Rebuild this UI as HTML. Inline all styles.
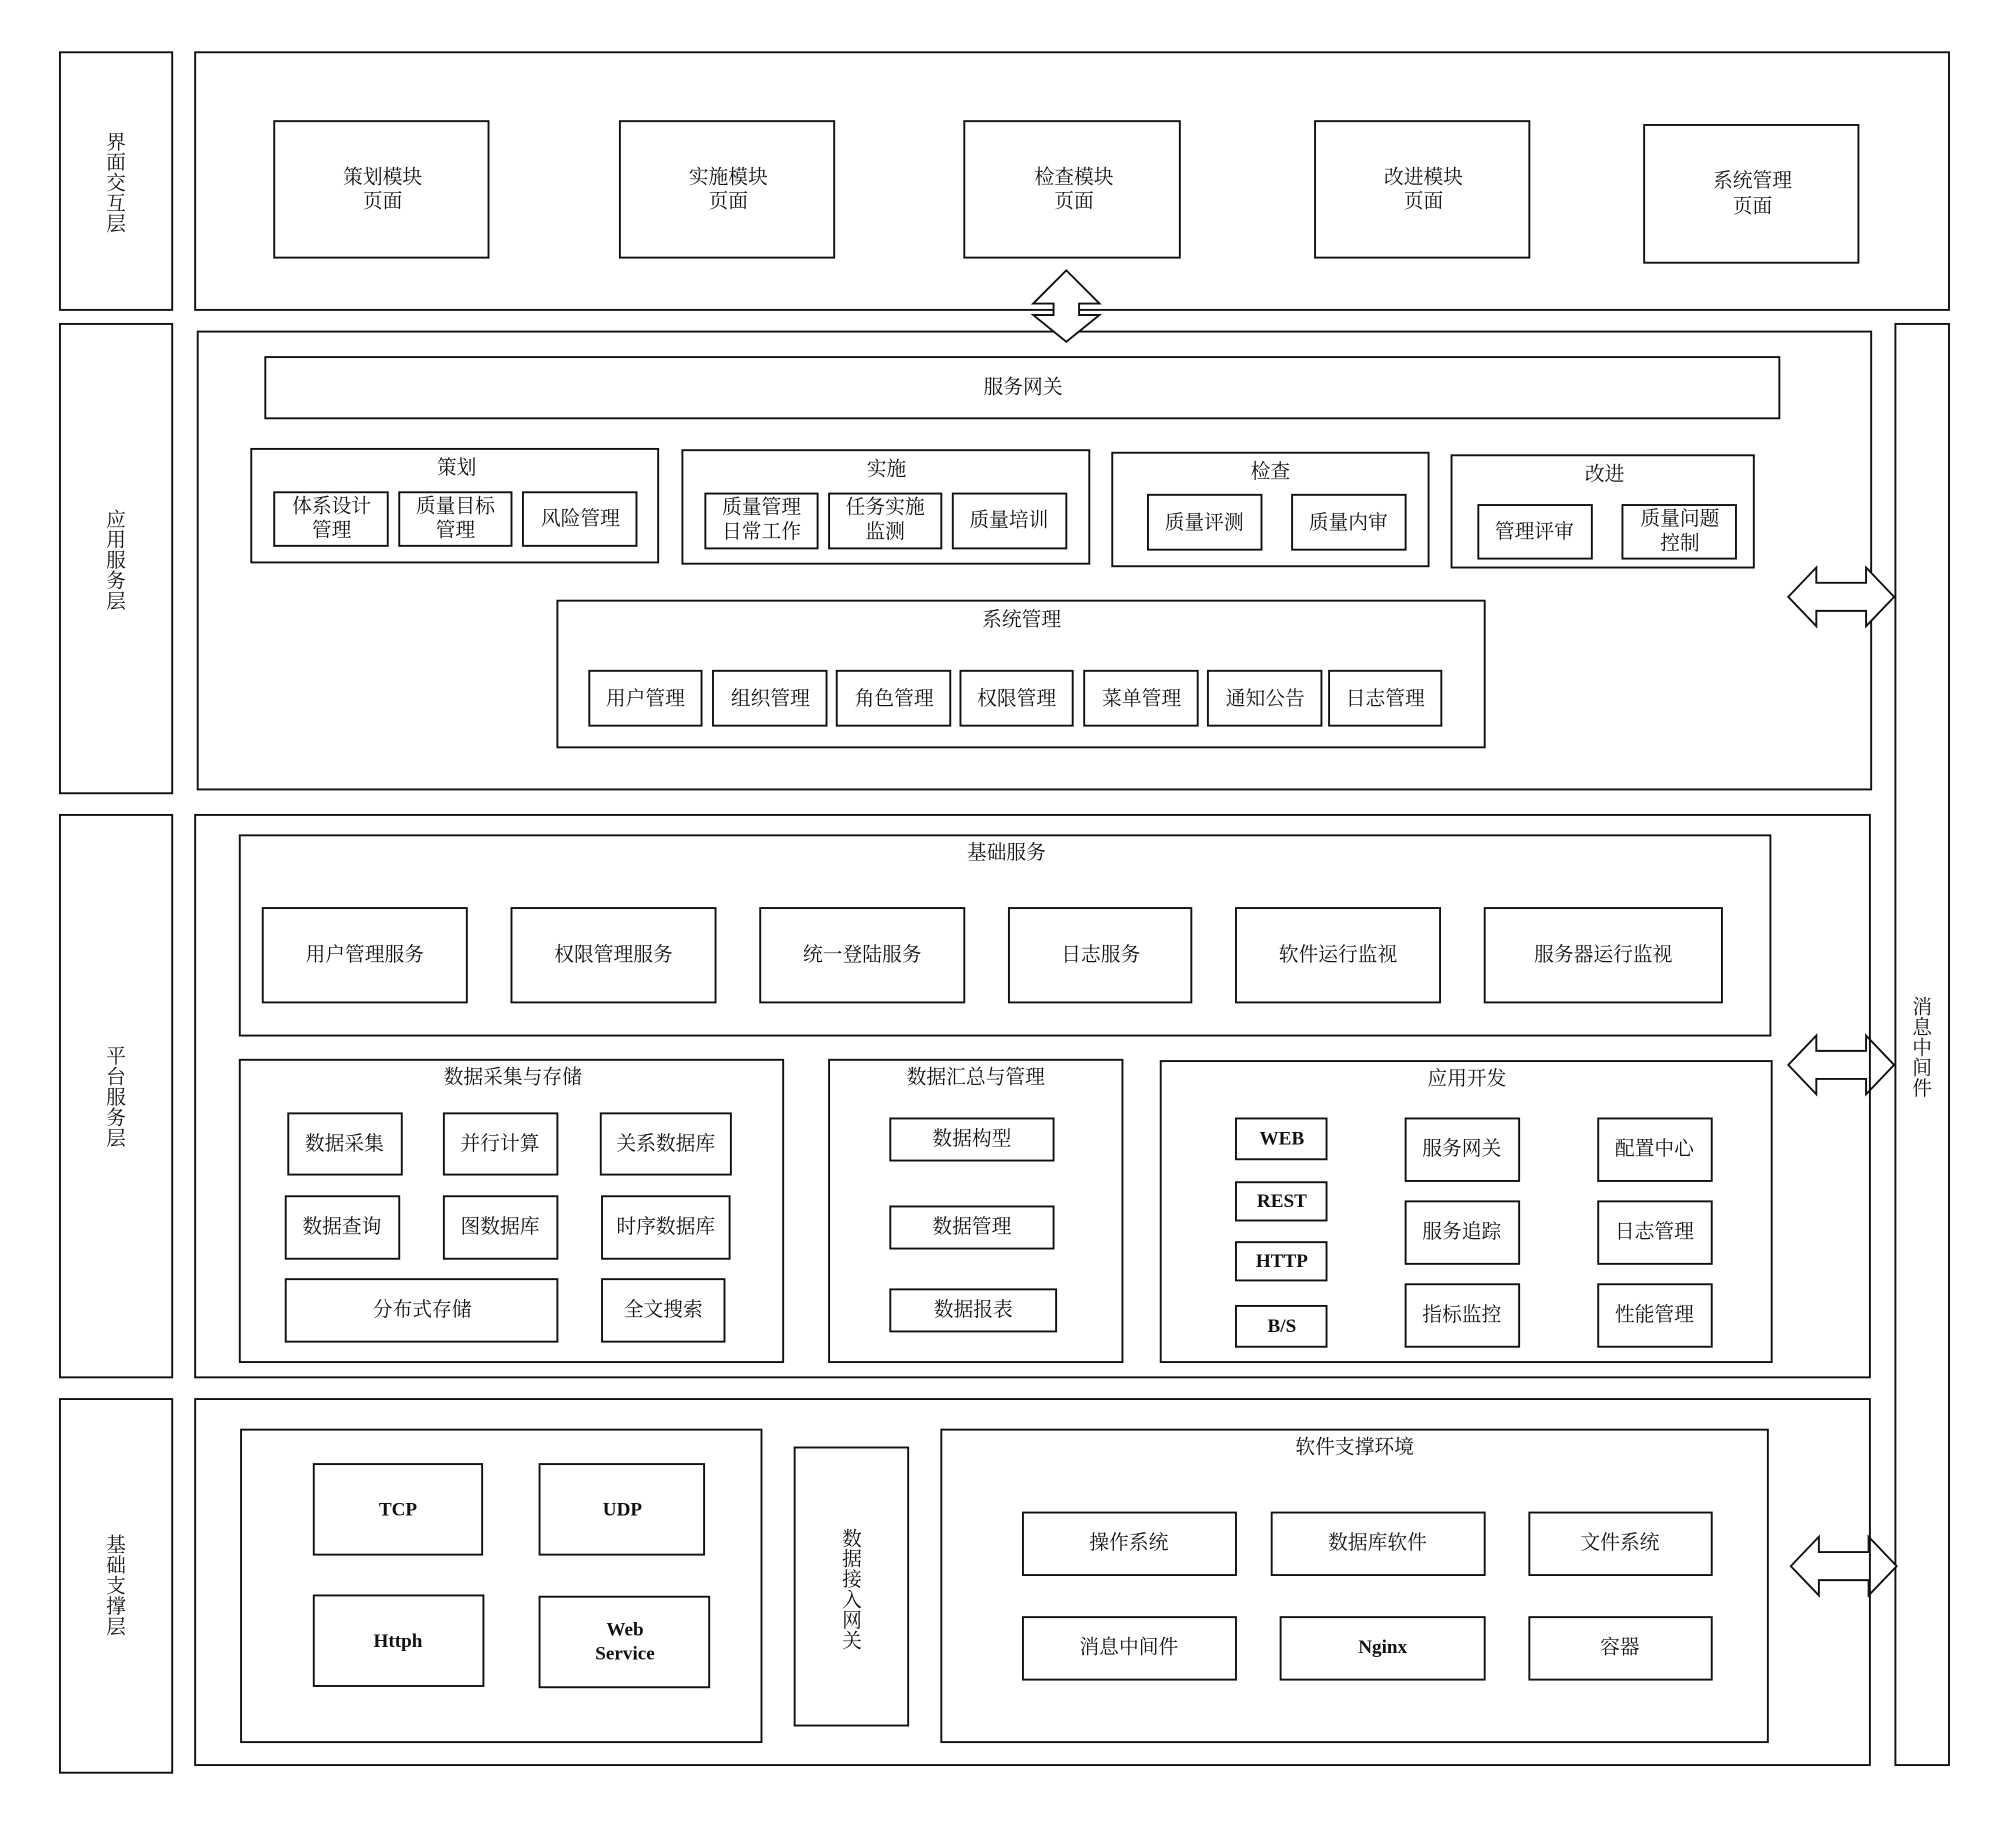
<!DOCTYPE html>
<html><head><meta charset="utf-8"><style>
html,body{margin:0;padding:0;background:#fff;}
svg{display:block;}
text{font-family:"Liberation Serif","Noto Serif CJK SC",serif;font-size:15.5px;fill:#111;text-anchor:middle;dominant-baseline:central;}
.l{font-weight:bold;font-size:15px;}
rect{fill:none;stroke:#111;stroke-width:1.5;}
polygon{fill:#fff;stroke:#111;stroke-width:1.5;}
</style></head><body>
<svg width="2000" height="1825" viewBox="0 0 1568 1431" preserveAspectRatio="none" xmlns="http://www.w3.org/2000/svg">
<!-- left labels -->
<rect x="47" y="41" width="88" height="202"/>
<rect x="47" y="254" width="88" height="368"/>
<rect x="47" y="639" width="88" height="441"/>
<rect x="47" y="1097" width="88" height="293"/>
<g>
<text x="91" y="112">界</text><text x="91" y="128">面</text><text x="91" y="144">交</text><text x="91" y="160">互</text><text x="91" y="176">层</text>
<text x="91" y="408">应</text><text x="91" y="424">用</text><text x="91" y="440">服</text><text x="91" y="456">务</text><text x="91" y="472">层</text>
<text x="91" y="829">平</text><text x="91" y="845">台</text><text x="91" y="861">服</text><text x="91" y="877">务</text><text x="91" y="893">层</text>
<text x="91" y="1212">基</text><text x="91" y="1228">础</text><text x="91" y="1244">支</text><text x="91" y="1260">撑</text><text x="91" y="1276">层</text>
</g>
<!-- top layer -->
<rect x="153" y="41" width="1375" height="202"/>
<rect x="215" y="95" width="168" height="107"/><text x="300" y="139">策划模块</text><text x="300" y="158">页面</text>
<rect x="486" y="95" width="168" height="107"/><text x="571" y="139">实施模块</text><text x="571" y="158">页面</text>
<rect x="756" y="95" width="169" height="107"/><text x="842" y="139">检查模块</text><text x="842" y="158">页面</text>
<rect x="1031" y="95" width="168" height="107"/><text x="1116" y="139">改进模块</text><text x="1116" y="158">页面</text>
<rect x="1289" y="98" width="168" height="108"/><text x="1374" y="142">系统管理</text><text x="1374" y="162">页面</text>
<!-- app layer -->
<rect x="155" y="260" width="1312" height="359"/>
<polygon points="836,212 862,238 846,238 846,247 862,247 836,268 810,247 826,247 826,238 810,238"/>
<rect x="208" y="280" width="1187" height="48"/><text x="802" y="304">服务网关</text>
<rect x="197" y="352" width="319" height="89"/><text x="358" y="367">策划</text>
<rect x="215" y="386" width="89" height="42"/><text x="260" y="397">体系设计</text><text x="260" y="416">管理</text>
<rect x="313" y="386" width="88" height="42"/><text x="357" y="397">质量目标</text><text x="357" y="416">管理</text>
<rect x="410" y="386" width="89" height="42"/><text x="455" y="407">风险管理</text>
<rect x="535" y="353" width="319" height="89"/><text x="695" y="368">实施</text>
<rect x="553" y="387" width="88" height="43"/><text x="597" y="398">质量管理</text><text x="597" y="417">日常工作</text>
<rect x="650" y="387" width="88" height="43"/><text x="694" y="398">任务实施</text><text x="694" y="417">监测</text>
<rect x="747" y="387" width="89" height="43"/><text x="791" y="408">质量培训</text>
<rect x="872" y="355" width="248" height="89"/><text x="996" y="370">检查</text>
<rect x="900" y="388" width="89" height="43"/><text x="944" y="410">质量评测</text>
<rect x="1013" y="388" width="89" height="43"/><text x="1057" y="410">质量内审</text>
<rect x="1138" y="357" width="237" height="88"/><text x="1258" y="372">改进</text>
<rect x="1159" y="396" width="89" height="42"/><text x="1203" y="417">管理评审</text>
<rect x="1272" y="396" width="89" height="42"/><text x="1317" y="407">质量问题</text><text x="1317" y="426">控制</text>
<rect x="437" y="471" width="727" height="115"/><text x="801" y="486">系统管理</text>
<rect x="462" y="526" width="88" height="43"/><text x="506" y="548">用户管理</text>
<rect x="559" y="526" width="89" height="43"/><text x="604" y="548">组织管理</text>
<rect x="656" y="526" width="89" height="43"/><text x="701" y="548">角色管理</text>
<rect x="753" y="526" width="88" height="43"/><text x="797" y="548">权限管理</text>
<rect x="850" y="526" width="89" height="43"/><text x="895" y="548">菜单管理</text>
<rect x="947" y="526" width="89" height="43"/><text x="992" y="548">通知公告</text>
<rect x="1042" y="526" width="88" height="43"/><text x="1086" y="548">日志管理</text>
<!-- message middleware -->
<rect x="1486" y="254" width="42" height="1130"/>
<text x="1507" y="790">消</text><text x="1507" y="806">息</text><text x="1507" y="822">中</text><text x="1507" y="838">间</text><text x="1507" y="854">件</text>
<polygon points="1402,468 1424,445 1424,457 1463,457 1463,445 1485,468 1463,491 1463,479 1424,479 1424,491"/>
<polygon points="1402,835 1424,812 1424,824 1463,824 1463,812 1485,835 1463,858 1463,846 1424,846 1424,858"/>
<polygon points="1404,1228 1426,1205 1426,1217 1465,1217 1465,1205 1487,1228 1465,1251 1465,1239 1426,1239 1426,1251"/>
<!-- platform -->
<rect x="153" y="639" width="1313" height="441"/>
<rect x="188" y="655" width="1200" height="157"/><text x="789" y="669">基础服务</text>
<rect x="206" y="712" width="160" height="74"/><text x="286" y="749">用户管理服务</text>
<rect x="401" y="712" width="160" height="74"/><text x="481" y="749">权限管理服务</text>
<rect x="596" y="712" width="160" height="74"/><text x="676" y="749">统一登陆服务</text>
<rect x="791" y="712" width="143" height="74"/><text x="863" y="749">日志服务</text>
<rect x="969" y="712" width="160" height="74"/><text x="1049" y="749">软件运行监视</text>
<rect x="1164" y="712" width="186" height="74"/><text x="1257" y="749">服务器运行监视</text>
<rect x="188" y="831" width="426" height="237"/><text x="402" y="845">数据采集与存储</text>
<rect x="226" y="873" width="89" height="48"/><text x="270" y="897">数据采集</text>
<rect x="348" y="873" width="89" height="48"/><text x="392" y="897">并行计算</text>
<rect x="471" y="873" width="102" height="48"/><text x="522" y="897">关系数据库</text>
<rect x="224" y="938" width="89" height="49"/><text x="268" y="962">数据查询</text>
<rect x="348" y="938" width="89" height="49"/><text x="392" y="962">图数据库</text>
<rect x="472" y="938" width="100" height="49"/><text x="522" y="962">时序数据库</text>
<rect x="224" y="1003" width="213" height="49"/><text x="331" y="1027">分布式存储</text>
<rect x="472" y="1003" width="96" height="49"/><text x="520" y="1027">全文搜索</text>
<rect x="650" y="831" width="230" height="237"/><text x="765" y="845">数据汇总与管理</text>
<rect x="698" y="877" width="128" height="33"/><text x="762" y="893">数据构型</text>
<rect x="698" y="946" width="128" height="33"/><text x="762" y="962">数据管理</text>
<rect x="698" y="1011" width="130" height="33"/><text x="763" y="1027">数据报表</text>
<rect x="910" y="832" width="479" height="236"/><text x="1150" y="846">应用开发</text>
<rect x="969" y="877" width="71" height="32"/><text class="l" x="1005" y="893">WEB</text>
<rect x="969" y="927" width="71" height="30"/><text class="l" x="1005" y="942">REST</text>
<rect x="969" y="974" width="71" height="30"/><text class="l" x="1005" y="989">HTTP</text>
<rect x="969" y="1024" width="71" height="32"/><text class="l" x="1005" y="1040">B/S</text>
<rect x="1102" y="877" width="89" height="49"/><text x="1146" y="901">服务网关</text>
<rect x="1102" y="942" width="89" height="49"/><text x="1146" y="966">服务追踪</text>
<rect x="1102" y="1007" width="89" height="49"/><text x="1146" y="1031">指标监控</text>
<rect x="1253" y="877" width="89" height="49"/><text x="1297" y="901">配置中心</text>
<rect x="1253" y="942" width="89" height="49"/><text x="1297" y="966">日志管理</text>
<rect x="1253" y="1007" width="89" height="49"/><text x="1297" y="1031">性能管理</text>
<!-- base -->
<rect x="153" y="1097" width="1313" height="287"/>
<rect x="189" y="1121" width="408" height="245"/>
<rect x="246" y="1148" width="132" height="71"/><text class="l" x="312" y="1184">TCP</text>
<rect x="423" y="1148" width="129" height="71"/><text class="l" x="488" y="1184">UDP</text>
<rect x="246" y="1251" width="133" height="71"/><text class="l" x="312" y="1287">Httph</text>
<rect x="423" y="1252" width="133" height="71"/><text class="l" x="490" y="1278">Web</text><text class="l" x="490" y="1297">Service</text>
<rect x="623" y="1135" width="89" height="218"/>
<text x="668" y="1207">数</text><text x="668" y="1223">据</text><text x="668" y="1239">接</text><text x="668" y="1255">入</text><text x="668" y="1271">网</text><text x="668" y="1287">关</text>
<rect x="738" y="1121" width="648" height="245"/><text x="1062" y="1135">软件支撑环境</text>
<rect x="802" y="1186" width="167" height="49"/><text x="885" y="1210">操作系统</text>
<rect x="997" y="1186" width="167" height="49"/><text x="1080" y="1210">数据库软件</text>
<rect x="1199" y="1186" width="143" height="49"/><text x="1270" y="1210">文件系统</text>
<rect x="802" y="1268" width="167" height="49"/><text x="885" y="1292">消息中间件</text>
<rect x="1004" y="1268" width="160" height="49"/><text class="l" x="1084" y="1292">Nginx</text>
<rect x="1199" y="1268" width="143" height="49"/><text x="1270" y="1292">容器</text>
</svg>
</body></html>
